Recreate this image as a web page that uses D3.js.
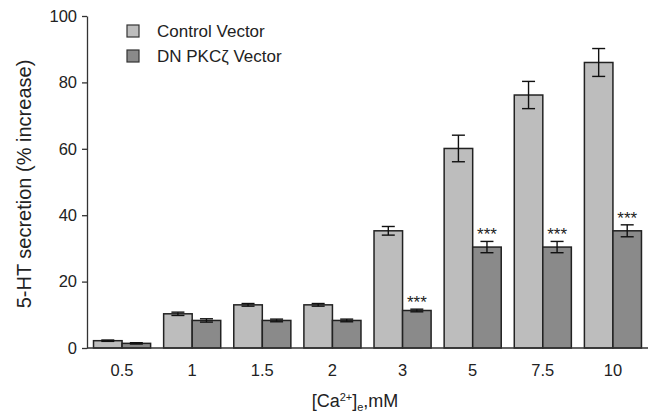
<!DOCTYPE html>
<html>
<head>
<meta charset="utf-8">
<script src="https://d3js.org/d3.v7.min.js"></script>
<style>
  body { margin: 0; background: #fff; }
  text { font-family: "Liberation Sans", Arial, Helvetica, sans-serif; fill: #222; }
</style>
</head>
<body>
<div id="chart"></div>
<script>
// data
var concentrations = ["0.5", "1", "1.5", "2", "3", "5", "7.5", "10"];
var seriesNames = ["Control Vector", "DN PKC\u03b6 Vector"];
var controlMean = [2.2, 10.3, 13.0, 13.0, 35.3, 60.1, 76.2, 86.0];
var controlErr  = [0.2, 0.5, 0.4, 0.4, 1.3, 4.0, 4.1, 4.2];
var dnMean      = [1.4, 8.3, 8.3, 8.3, 11.3, 30.4, 30.4, 35.3];
var dnErr       = [0.2, 0.5, 0.4, 0.4, 0.4, 1.7, 1.7, 1.8];
var dnSignif    = ["", "", "", "", "***", "***", "***", "***"];
var yTicks = [0, 20, 40, 60, 80, 100];

var colors = ["#bdbdbd", "#8a8a8a"];

var width = 648, height = 413;
var margin = {top: 16, right: 0, bottom: 65, left: 87};

var svg = d3.select("#chart").append("svg")
    .attr("width", width)
    .attr("height", height);

// build rows
var rows = concentrations.map(function(c, i) {
  return {
    conc: c,
    values: [
      {s: 0, mean: controlMean[i], err: controlErr[i], sig: ""},
      {s: 1, mean: dnMean[i], err: dnErr[i], sig: dnSignif[i]}
    ]
  };
});

var x = d3.scaleBand()
    .domain(concentrations)
    .range([margin.left, width - margin.right])
    .paddingInner(0.186)
    .paddingOuter(0.093);

var x1 = d3.scaleBand()
    .domain([0, 1])
    .range([0, x.bandwidth()]);

var y = d3.scaleLinear()
    .domain([0, 100])
    .range([height - margin.bottom, margin.top]);

// bars
var groups = svg.append("g").selectAll("g")
  .data(rows)
  .enter().append("g")
    .attr("transform", function(d) { return "translate(" + x(d.conc) + ",0)"; });

groups.selectAll("rect")
  .data(function(d) { return d.values; })
  .enter().append("rect")
    .attr("x", function(d) { return x1(d.s); })
    .attr("y", function(d) { return y(d.mean); })
    .attr("width", x1.bandwidth())
    .attr("height", function(d) { return y(0) - y(d.mean); })
    .attr("fill", function(d) { return colors[d.s]; })
    .attr("stroke", "#222")
    .attr("stroke-width", 1.5);

// error bars
var cap = 6.5;
var eb = groups.selectAll("g.err")
  .data(function(d) { return d.values; })
  .enter().append("g")
    .attr("class", "err")
    .attr("stroke", "#111")
    .attr("stroke-width", 1.4);

eb.append("line")
    .attr("x1", function(d) { return x1(d.s) + x1.bandwidth() / 2; })
    .attr("x2", function(d) { return x1(d.s) + x1.bandwidth() / 2; })
    .attr("y1", function(d) { return y(d.mean + d.err); })
    .attr("y2", function(d) { return y(d.mean - d.err); });
eb.append("line")
    .attr("x1", function(d) { return x1(d.s) + x1.bandwidth() / 2 - cap; })
    .attr("x2", function(d) { return x1(d.s) + x1.bandwidth() / 2 + cap; })
    .attr("y1", function(d) { return y(d.mean + d.err); })
    .attr("y2", function(d) { return y(d.mean + d.err); });
eb.append("line")
    .attr("x1", function(d) { return x1(d.s) + x1.bandwidth() / 2 - cap; })
    .attr("x2", function(d) { return x1(d.s) + x1.bandwidth() / 2 + cap; })
    .attr("y1", function(d) { return y(d.mean - d.err); })
    .attr("y2", function(d) { return y(d.mean - d.err); });

// significance stars
groups.selectAll("text.sig")
  .data(function(d) { return d.values.filter(function(v) { return v.sig; }); })
  .enter().append("text")
    .attr("class", "sig")
    .attr("x", function(d) { return x1(d.s) + x1.bandwidth() / 2; })
    .attr("y", function(d) { return y(d.mean + d.err) - 1; })
    .attr("text-anchor", "middle")
    .style("font-size", "17px")
    .text(function(d) { return d.sig; });

// y axis
var yAxis = svg.append("g")
    .attr("transform", "translate(" + margin.left + ",0)")
    .call(d3.axisLeft(y).tickValues(yTicks).tickSize(5).tickSizeOuter(0).tickPadding(5));
yAxis.selectAll("path, line").attr("stroke", "#333").attr("stroke-width", 1.3);
yAxis.selectAll("text").style("font-size", "16.5px").attr("fill", "#222");

// x axis: baseline line and labels only
var xAxis = svg.append("g")
    .attr("transform", "translate(0," + y(0) + ")")
    .call(d3.axisBottom(x).tickSize(0).tickSizeOuter(0).tickPadding(16));
xAxis.select("path").attr("stroke", "#333").attr("stroke-width", 1.3)
    .attr("d", "M" + margin.left + ",0H" + width);
xAxis.selectAll("text").style("font-size", "16.5px").attr("fill", "#222");

// axis titles
svg.append("text")
    .attr("transform", "translate(31," + ((y(0) + y(100)) / 2 + 2) + ") rotate(-90)")
    .attr("text-anchor", "middle")
    .style("font-size", "20px")
    .text("5-HT secretion (% increase)");

var xt = svg.append("text")
    .attr("x", 355)
    .attr("y", 407)
    .attr("text-anchor", "middle")
    .style("font-size", "18px");
xt.append("tspan").text("[Ca");
xt.append("tspan").attr("dy", -6).style("font-size", "11px").text("2+");
xt.append("tspan").attr("dy", 6).text("]");
xt.append("tspan").attr("dy", 4).style("font-size", "11px").text("e");
xt.append("tspan").attr("dy", -4).text(",mM");

// legend
var legend = svg.append("g").selectAll("g")
  .data(seriesNames)
  .enter().append("g")
    .attr("transform", function(d, i) { return "translate(127," + (25 + i * 25) + ")"; });
legend.append("rect")
    .attr("width", 12)
    .attr("height", 12)
    .attr("fill", function(d, i) { return colors[i]; })
    .attr("stroke", "#333")
    .attr("stroke-width", 1.2);
legend.append("text")
    .attr("x", 30)
    .attr("y", 12)
    .style("font-size", "17px")
    .text(function(d) { return d; });
</script>
</body>
</html>
